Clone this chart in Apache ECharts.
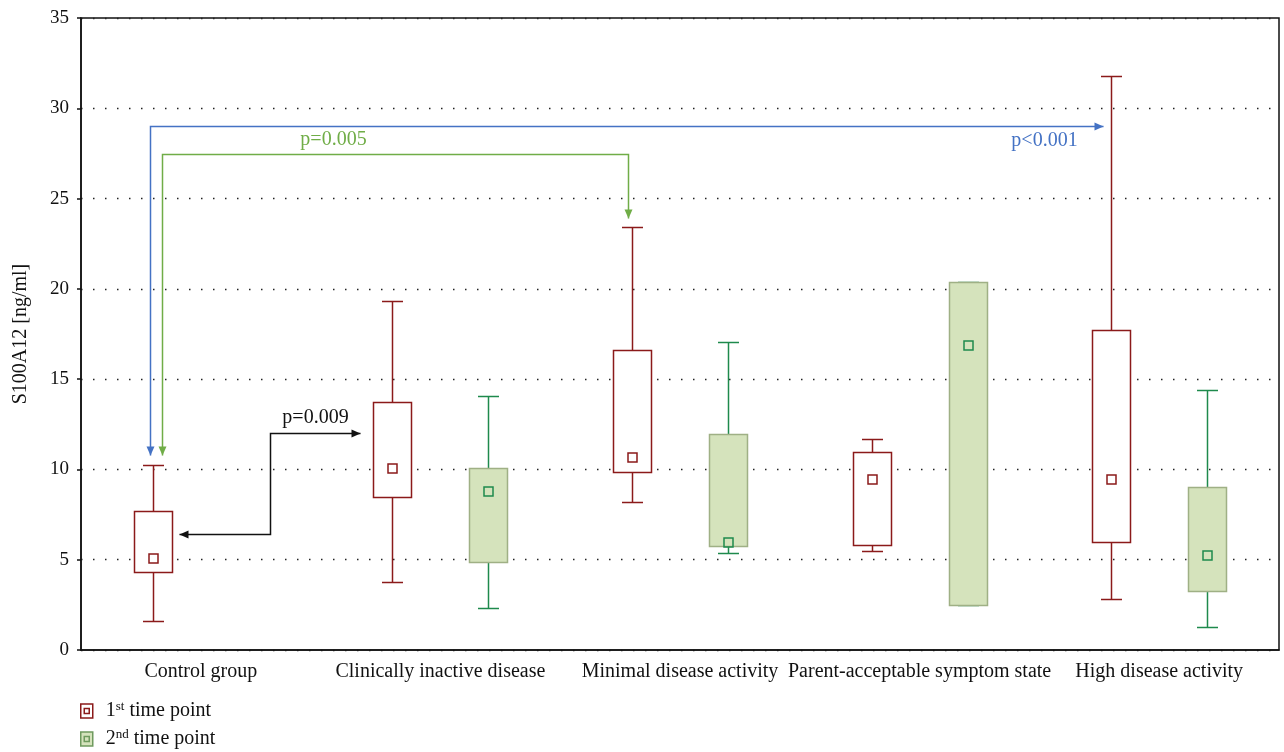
<!DOCTYPE html>
<html lang="en">
<head>
    <meta charset="UTF-8">
    <title>S100A12</title>
    <style>
        html, body { margin: 0; padding: 0; background: #fff; }
    </style>
</head>
<body>
<div id="chart-wrap" style="width: 1284px;height: 752px;"></div>
<script src="https://cdn.jsdelivr.net/npm/echarts@6.0.0/dist/echarts.min.js"></script>
<script>
    var categories = ['Control group', 'Clinically inactive disease', 'Minimal disease activity',
        'Parent-acceptable symptom state', 'High disease activity'];

    // [min, q1, median, q3, max]
    var firstPoint = [
        [1.6, 4.3, 5.1, 7.7, 10.25],
        [3.75, 8.45, 10.1, 13.75, 19.3],
        [8.2, 9.85, 10.7, 16.6, 23.4],
        [5.5, 5.8, 9.45, 10.95, 11.7],
        [2.85, 6.0, 9.45, 17.7, 31.8]
    ];
    var secondPoint = [
        null,
        [2.3, 4.9, 8.8, 10.1, 14.05],
        [5.35, 5.75, 6.0, 11.95, 17.05],
        [2.5, 2.5, 16.9, 20.4, 20.4],
        [1.3, 3.25, 5.25, 9.05, 14.4]
    ];

    var yTicks = [0, 5, 10, 15, 20, 25, 30, 35];

    // p-value brackets: points are [category, offset in band widths, value]
    var brackets = [
        {label: 'p<0.001', color: '#4472c4', labelAt: [4, -0.48, 28.25],
            points: [[0, -0.21, 10.8], [0, -0.21, 29], [4, -0.235, 29]]},
        {label: 'p=0.005', color: '#70ad47', labelAt: [0, 0.55, 28.3],
            points: [[0, -0.162, 10.8], [0, -0.162, 27.45], [2, -0.215, 27.45], [2, -0.215, 23.9]]},
        {label: 'p=0.009', color: '#111', labelAt: [0, 0.476, 12.9],
            points: [[0, -0.09, 6.45], [0, 0.289, 6.45], [0, 0.289, 12], [1, -0.336, 12]]}
    ];

    var serif = '"Liberation Serif", "DejaVu Serif", serif';

    function toRows(list) {
        var rows = [];
        list.forEach(function (v, i) {
            if (v) rows.push([i].concat(v));
        });
        return rows;
    }

    function boxRenderer(offset, lineColor, fill, border, medColor) {
        return function (params, api) {
            var cat = api.value(0);
            var band = api.size([1, 0])[0];
            var x = Math.round(api.coord([cat, 0])[0] + offset * band) + 0.5;
            var yOf = function (i) { return Math.round(api.coord([cat, api.value(i)])[1]) + 0.5; };
            var yMin = yOf(1), yQ1 = yOf(2), yMed = yOf(3), yQ3 = yOf(4), yMax = yOf(5);
            var bw = Math.round(band * 0.16), cw = Math.round(band * 0.086), ms = 9;
            var ls = {stroke: lineColor, lineWidth: 1.5};
            return {
                type: 'group',
                children: [
                    {type: 'line', shape: {x1: x, y1: yMax, x2: x, y2: yQ3}, style: ls},
                    {type: 'line', shape: {x1: x - cw / 2, y1: yMax, x2: x + cw / 2, y2: yMax}, style: ls},
                    {type: 'line', shape: {x1: x, y1: yMin, x2: x, y2: yQ1}, style: ls},
                    {type: 'line', shape: {x1: x - cw / 2, y1: yMin, x2: x + cw / 2, y2: yMin}, style: ls},
                    {type: 'rect', shape: {x: x - bw / 2, y: yQ3, width: bw, height: yQ1 - yQ3},
                        style: {fill: fill, stroke: border, lineWidth: 1.5}},
                    {type: 'rect', shape: {x: x - ms / 2, y: yMed - ms / 2, width: ms, height: ms},
                        style: {fill: 'none', stroke: medColor, lineWidth: 1.5}}
                ]
            };
        };
    }

    function bracketRenderer(params, api) {
        var b = brackets[params.dataIndex];
        var band = api.size([1, 0])[0];
        var px = function (p) {
            var c = api.coord([p[0], p[2]]);
            return [Math.round(c[0] + p[1] * band) + 0.5, Math.round(c[1]) + 0.5];
        };
        var pts = b.points.map(px);
        var children = [{type: 'polyline', shape: {points: pts},
            style: {stroke: b.color, lineWidth: 1.5, fill: 'none'}}];
        // arrow heads at both ends
        [[pts[0], pts[1]], [pts[pts.length - 1], pts[pts.length - 2]]].forEach(function (e) {
            var tip = e[0], prev = e[1];
            var dx = tip[0] - prev[0], dy = tip[1] - prev[1];
            var len = Math.sqrt(dx * dx + dy * dy) || 1;
            dx /= len; dy /= len;
            var L = 9, W = 4;
            children.push({type: 'polygon', shape: {points: [
                tip,
                [tip[0] - dx * L - dy * W, tip[1] - dy * L + dx * W],
                [tip[0] - dx * L + dy * W, tip[1] - dy * L - dx * W]
            ]}, style: {fill: b.color}});
        });
        var lp = px(b.labelAt);
        children.push({type: 'text', x: lp[0], y: lp[1], style: {
            text: b.label, fill: b.color, font: '20px ' + serif, align: 'center', verticalAlign: 'middle'
        }});
        return {type: 'group', children: children};
    }

    var chart = echarts.init(document.getElementById('chart-wrap'));

    var option = {
        backgroundColor: '#fff',
        animation: false,
        grid: {
            left: 81, right: 5, top: 18, bottom: 102,
            show: true, borderColor: '#111', borderWidth: 1.5
        },
        legend: {
            orient: 'vertical',
            left: 80, top: 700,
            padding: 0,
            itemWidth: 12, itemHeight: 14, itemGap: 7,
            data: [
                {name: '1st time point', icon: 'path://M0,0H12V14H0Z M3.5,4.5H8.5V9.5H3.5Z',
                    itemStyle: {color: '#fff', borderColor: '#8b1a1a', borderWidth: 1.5}},
                {name: '2nd time point', icon: 'path://M0,0H12V14H0Z M3.5,4.5H8.5V9.5H3.5Z',
                    itemStyle: {color: '#d5e3bc', borderColor: '#6f9a5e', borderWidth: 1.5}}
            ],
            formatter: function (name) {
                return name.charAt(0) === '1'
                    ? '{g|}{n|1}{s|st}{n| time point}'
                    : '{g|}{n|2}{s|nd}{n| time point}';
            },
            textStyle: {
                rich: {
                    g: {width: 8},
                    n: {fontFamily: serif, fontSize: 20, color: '#111', lineHeight: 22},
                    s: {fontFamily: serif, fontSize: 13, color: '#111', verticalAlign: 'top', lineHeight: 10}
                }
            }
        },
        xAxis: {
            type: 'category',
            data: categories,
            axisLine: {lineStyle: {color: '#111', width: 1.5}},
            axisTick: {alignWithLabel: true, length: 5, lineStyle: {color: '#111', width: 1.5}},
            axisLabel: {fontFamily: serif, fontSize: 20, color: '#111', margin: 12, interval: 0},
            splitLine: {show: false}
        },
        yAxis: {
            type: 'value',
            min: 0, max: 35, interval: 5,
            name: 'S100A12 [ng/ml]',
            nameLocation: 'middle',
            nameRotate: 90,
            nameGap: 50,
            nameTextStyle: {fontFamily: serif, fontSize: 20, color: '#111'},
            axisLine: {show: true, lineStyle: {color: '#111', width: 1.5}},
            axisTick: {show: true, length: 4, lineStyle: {color: '#111', width: 1.5}},
            axisLabel: {
                fontFamily: serif, fontSize: 19, color: '#111', margin: 12,
                formatter: function (v) { return yTicks.indexOf(v) >= 0 ? String(v) : ''; }
            },
            splitLine: {show: true, lineStyle: {color: '#222', width: 1.4, type: [1.5, 10.5]}}
        },
        series: [
            {
                name: '1st time point',
                type: 'custom',
                renderItem: boxRenderer(-0.2, '#8b1a1a', '#fff', '#8b1a1a', '#8b1a1a'),
                encode: {x: 0, y: [1, 2, 3, 4, 5]},
                itemStyle: {color: '#8b1a1a'},
                data: toRows(firstPoint),
                z: 3
            },
            {
                name: '2nd time point',
                type: 'custom',
                renderItem: boxRenderer(0.2, '#1e8a4c', '#d5e3bc', '#9fb085', '#1e8a4c'),
                encode: {x: 0, y: [1, 2, 3, 4, 5]},
                itemStyle: {color: '#d5e3bc'},
                data: toRows(secondPoint),
                z: 3
            },
            {
                name: 'brackets',
                type: 'custom',
                renderItem: bracketRenderer,
                encode: {x: 0, y: 1},
                data: brackets.map(function () { return [0, 0]; }),
                z: 4
            }
        ]
    };

    chart.setOption(option);
</script>
</body>
</html>
